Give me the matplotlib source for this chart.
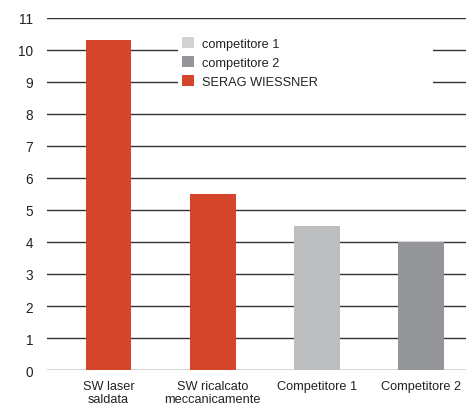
import matplotlib.pyplot as plt
from matplotlib.patches import Patch, Rectangle

plt.rcParams['font.family'] = ['Liberation Sans', 'DejaVu Sans']

categories = ["SW laser\nsaldata", "SW ricalcato\nmeccanicamente", "Competitore 1", "Competitore 2"]
values = [10.3, 5.5, 4.5, 4.0]
colors = ["#d4452b", "#d4452b", "#bdbec0", "#939598"]
legend_labels = ["competitore 1", "competitore 2", "SERAG WIESSNER"]
legend_colors = ["#d1d2d4", "#939598", "#d4452b"]

fig = plt.figure(figsize=(4.66, 4.10), dpi=100)
ax = fig.add_axes([0.101, 0.095, 0.899, 0.859])

x = range(len(categories))
ax.bar(x, values, width=0.44, color=colors, zorder=3)

ax.set_ylim(0, 11)
ax.set_xlim(-0.59, 3.43)
ax.set_yticks(range(12))
ax.set_xticks(list(x))
ax.set_xticklabels(categories, fontsize=9.2, linespacing=1.15, color="#222222")
ax.tick_params(axis='y', length=0, labelsize=9.8, pad=10, labelcolor="#222222")
ax.tick_params(axis='x', length=0, pad=7)
ax.yaxis.grid(True, color="#333333", linewidth=1.0, zorder=0)
for s in ax.spines.values():
    s.set_visible(False)

# white block behind the legend that cuts the grid lines
fig.add_artist(Rectangle((178 / 466, 1 - 94 / 410), (433 - 178) / 466, 62 / 410,
                         transform=fig.transFigure, facecolor='white',
                         edgecolor='none', zorder=4))

handles = [Patch(facecolor=c, edgecolor='none') for c in legend_colors]
leg = fig.legend(handles, legend_labels, loc='upper left',
                 bbox_to_anchor=(182 / 466, 1 - 38 / 410),
                 frameon=False, fontsize=9.2, handlelength=0.95, handleheight=1.0,
                 handletextpad=0.6, labelspacing=0.45, borderpad=0, borderaxespad=0,
                 labelcolor="#222222")
leg.set_zorder(5)

fig.savefig("out.png", dpi=100)
